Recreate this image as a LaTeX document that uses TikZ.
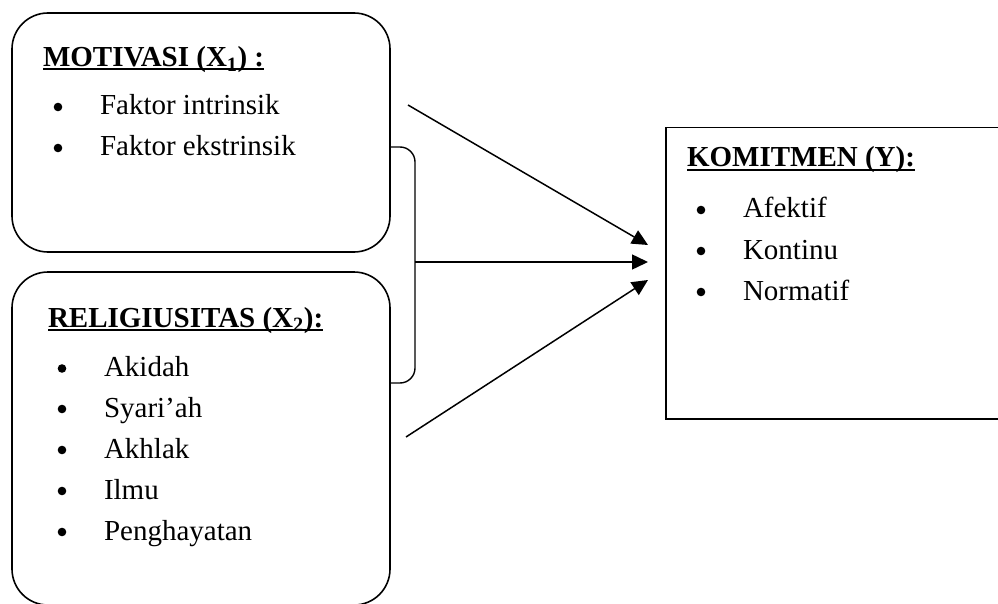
\documentclass[tikz,border=0pt]{standalone}
\usepackage{fontspec}
\setmainfont{Liberation Serif}
\usetikzlibrary{arrows.meta}
\newcommand\hdul[1]{\setbox0\hbox{#1}\rlap{\rule[-3.6pt]{\wd0}{2pt}}\box0}
\newcommand\bul{\makebox[0pt]{\tikz[baseline=0pt]\fill (0pt,8pt) circle (4.3pt);}}
\newcommand\itm[1]{\bul\hspace{42pt}#1}
\begin{document}
\begin{tikzpicture}[x=1pt,y=-1pt,
  box/.style={draw,line width=1.6pt,inner sep=0pt,outer sep=0pt},
  rbox/.style={box,rounded corners=36pt},
  txt/.style={anchor=base west,inner sep=0pt,outer sep=0pt,font=\fontsize{29}{41}\selectfont},
  head/.style={txt,font=\fontsize{29}{41}\selectfont\bfseries},
  conn/.style={line width=1.5pt,-{Triangle[length=16pt,width=15pt]}}]
\useasboundingbox (0,0) rectangle (998,604);
% boxes
\node[rbox,minimum width=378pt,minimum height=239pt] (m) at (201,132.5) {};
\node[rbox,minimum width=378pt,minimum height=333pt] (r) at (201,438.5) {};
\node[box,minimum width=350pt,minimum height=291.5pt] (k) at (841,273.25) {};
% box 1 text
\node[head] (mh) at (43,66.5) {\hdul{MOTIVASI (X\textsubscript{1}) :}};
\node[txt] (m1) at (58,115) {\itm{Faktor intrinsik}};
\node[txt] (m2) at (58,156) {\itm{Faktor ekstrinsik}};
% box 2 text
\node[head] (rh) at (48,327) {\hdul{RELIGIUSITAS (X\textsubscript{2}):}};
\node[txt] (r1) at (62,376.5) {\itm{Akidah}};
\node[txt] (r2) at (62,417) {\itm{Syari’ah}};
\node[txt] (r3) at (62,458) {\itm{Akhlak}};
\node[txt] (r4) at (62,499) {\itm{Ilmu}};
\node[txt] (r5) at (62,540) {\itm{Penghayatan}};
% box Y text
\node[head] (kh) at (687,167) {\hdul{KOMITMEN (Y):}};
\node[txt] (k1) at (701,218) {\itm{Afektif}};
\node[txt] (k2) at (701,259) {\itm{Kontinu}};
\node[txt] (k3) at (701,300) {\itm{Normatif}};
% bracket
\coordinate (bt) at (m.east |- 0,147);
\coordinate (bb) at (m.east |- 0,383);
\coordinate (bm) at (415,262);
\draw[line width=1.4pt,rounded corners=15pt] (bt) -- (415,147) -- (415,383) -- (bb);
% arrows
\coordinate (a1s) at (408,105);
\coordinate (a1e) at (648,245);
\coordinate (a2e) at (648,262);
\coordinate (a3s) at (406,437);
\coordinate (a3e) at (648,280);
\draw[conn] (a1s) -- (a1e);
\draw[conn] (bm) -- (a2e);
\draw[conn] (a3s) -- (a3e);
\end{tikzpicture}
\end{document}
